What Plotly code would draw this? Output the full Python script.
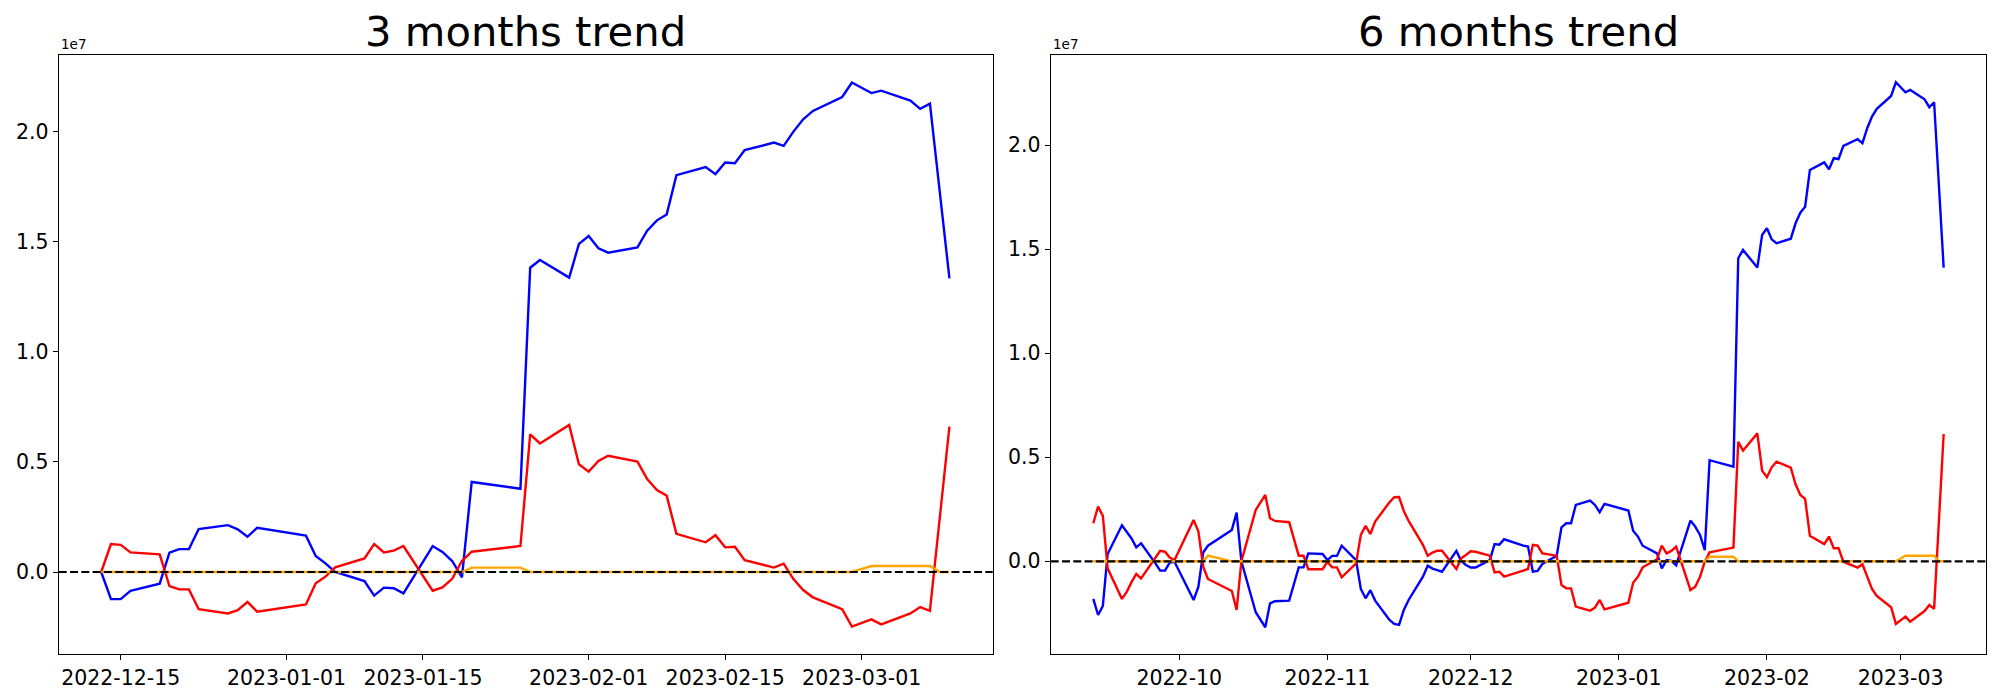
import plotly.graph_objects as go

# ---------------- data: 3 months panel (values in millions) ----------------
dates_3m = [
    "2022-12-13", "2022-12-14", "2022-12-15", "2022-12-16", "2022-12-19", "2022-12-20",
    "2022-12-21", "2022-12-22", "2022-12-23", "2022-12-26", "2022-12-27", "2022-12-28",
    "2022-12-29", "2023-01-03", "2023-01-04", "2023-01-05", "2023-01-06", "2023-01-09",
    "2023-01-10", "2023-01-11", "2023-01-12", "2023-01-13", "2023-01-16", "2023-01-17",
    "2023-01-18", "2023-01-19", "2023-01-20", "2023-01-25", "2023-01-26", "2023-01-27",
    "2023-01-30", "2023-01-31", "2023-02-01", "2023-02-02", "2023-02-03", "2023-02-06",
    "2023-02-07", "2023-02-08", "2023-02-09", "2023-02-10", "2023-02-13", "2023-02-14",
    "2023-02-15", "2023-02-16", "2023-02-17", "2023-02-20", "2023-02-21", "2023-02-22",
    "2023-02-23", "2023-02-24", "2023-02-27", "2023-02-28", "2023-03-02", "2023-03-03",
    "2023-03-06", "2023-03-07", "2023-03-08", "2023-03-09", "2023-03-10",
]
blue_3m = [
    0.0, -1.23, -1.23, -0.86, -0.53, 0.88, 1.04, 1.04, 1.95, 2.13, 1.94, 1.60,
    2.01, 1.65, 0.73, 0.39, 0.0, -0.41, -1.07, -0.71, -0.74, -0.97, 1.18, 0.91,
    0.50, -0.24, 4.09, 3.78, 13.82, 14.17, 13.37, 14.90, 15.26, 14.70, 14.50, 14.74,
    15.50, 15.97, 16.24, 18.02, 18.39, 18.07, 18.60, 18.56, 19.16, 19.50, 19.35, 20.00,
    20.56, 20.94, 21.57, 22.23, 21.75, 21.86, 21.41, 21.03, 21.27, 17.30, 13.34,
]
red_3m = [
    0.0, 1.27, 1.23, 0.89, 0.80, -0.64, -0.79, -0.79, -1.69, -1.88, -1.73, -1.36,
    -1.80, -1.47, -0.51, -0.21, 0.21, 0.62, 1.27, 0.89, 0.97, 1.18, -0.85, -0.70,
    -0.31, 0.50, 0.92, 1.18, 6.25, 5.84, 6.68, 4.89, 4.56, 5.04, 5.28, 5.01,
    4.22, 3.72, 3.47, 1.73, 1.35, 1.67, 1.12, 1.15, 0.54, 0.20, 0.38, -0.32,
    -0.82, -1.15, -1.69, -2.48, -2.15, -2.38, -1.88, -1.59, -1.76, 2.40, 6.60,
]
orange_3m = [
    0.0, 0.0, 0.0, 0.0, 0.0, 0.0, 0.0, 0.0, 0.0, 0.0, 0.0, 0.0,
    0.0, 0.0, 0.0, 0.0, 0.0, 0.0, 0.0, 0.0, 0.0, 0.0, 0.0, 0.0,
    0.0, 0.0, 0.20, 0.20, 0.0, 0.0, 0.0, 0.0, 0.0, 0.0, 0.0, 0.0,
    0.0, 0.0, 0.0, 0.0, 0.0, 0.0, 0.0, 0.0, 0.0, 0.0, 0.0, 0.0,
    0.0, 0.0, 0.0, 0.0, 0.27, 0.27, 0.27, 0.27, 0.27, 0.0, 0.0,
]

# ---------------- data: 6 months panel (values in millions) ----------------
dates_6m = [
    "2022-09-13", "2022-09-14", "2022-09-15", "2022-09-16", "2022-09-19", "2022-09-20",
    "2022-09-21", "2022-09-22", "2022-09-23", "2022-09-26", "2022-09-27", "2022-09-28",
    "2022-09-29", "2022-09-30", "2022-10-04", "2022-10-05", "2022-10-06", "2022-10-07",
    "2022-10-11", "2022-10-12", "2022-10-13", "2022-10-14", "2022-10-17", "2022-10-18",
    "2022-10-19", "2022-10-20", "2022-10-21", "2022-10-24", "2022-10-25", "2022-10-26",
    "2022-10-27", "2022-10-28", "2022-10-31", "2022-11-01", "2022-11-02", "2022-11-03",
    "2022-11-04", "2022-11-07", "2022-11-08", "2022-11-09", "2022-11-10", "2022-11-11",
    "2022-11-14", "2022-11-15", "2022-11-16", "2022-11-17", "2022-11-18", "2022-11-21",
    "2022-11-22", "2022-11-23", "2022-11-24", "2022-11-25", "2022-11-28", "2022-11-29",
    "2022-11-30", "2022-12-01", "2022-12-02", "2022-12-05", "2022-12-06", "2022-12-07",
    "2022-12-08", "2022-12-09", "2022-12-12",
] + dates_3m
blue_6m = [
    -1.81, -2.58, -2.15, 0.35, 1.73, 1.43, 1.10, 0.67, 0.87, -0.10, -0.45, -0.45,
    -0.06, -0.02, -1.86, -1.22, 0.42, 0.75, 1.35, 1.51, 2.34, 0.0, -2.45, -2.82,
    -3.17, -2.02, -1.92, -1.89, -1.09, -0.29, -0.29, 0.38, 0.35, 0.06, 0.26, 0.26,
    0.75, 0.06, -1.33, -1.78, -1.39, -1.89, -2.82, -3.01, -3.06, -2.34, -1.86, -0.74,
    -0.21, -0.35, -0.42, -0.50, 0.50, 0.02, -0.18, -0.30, -0.30, 0.06, 0.83, 0.80,
    1.06, 0.98, 0.75,
    0.71, -0.50, -0.46, -0.13, 0.27, 1.63, 1.83, 1.83, 2.71, 2.92, 2.71, 2.36,
    2.76, 2.44, 1.47, 1.19, 0.75, 0.38, -0.34, 0.06, 0.02, -0.19, 1.96, 1.67,
    1.27, 0.54, 4.86, 4.55, 14.57, 14.97, 14.12, 15.69, 16.01, 15.48, 15.29, 15.51,
    16.25, 16.76, 17.05, 18.81, 19.18, 18.85, 19.38, 19.34, 19.97, 20.29, 20.10, 20.82,
    21.38, 21.75, 22.37, 23.03, 22.55, 22.66, 22.21, 21.83, 22.07, 18.10, 14.12,
]
red_6m = [
    1.83, 2.63, 2.18, -0.34, -1.81, -1.47, -1.00, -0.61, -0.82, 0.20, 0.50, 0.46,
    0.18, 0.06, 1.99, 1.43, -0.26, -0.85, -1.31, -1.43, -2.34, 0.0, 2.47, 2.82,
    3.19, 2.07, 1.94, 1.88, 1.07, 0.27, 0.27, -0.38, -0.38, -0.02, -0.29, -0.29,
    -0.77, -0.10, 1.27, 1.71, 1.31, 1.91, 2.84, 3.08, 3.09, 2.42, 1.94, 0.79,
    0.27, 0.42, 0.51, 0.51, -0.37, 0.14, 0.30, 0.48, 0.46, 0.27, -0.53, -0.50,
    -0.74, -0.66, -0.43,
    -0.37, 0.79, 0.75, 0.38, 0.27, -1.14, -1.30, -1.30, -2.18, -2.37, -2.23, -1.86,
    -2.31, -1.99, -1.03, -0.74, -0.29, 0.10, 0.75, 0.38, 0.50, 0.71, -1.38, -1.22,
    -0.74, -0.02, 0.43, 0.66, 5.75, 5.32, 6.15, 4.36, 4.04, 4.52, 4.79, 4.50,
    3.70, 3.19, 3.00, 1.23, 0.83, 1.19, 0.63, 0.63, -0.02, -0.30, -0.14, -0.74,
    -1.33, -1.67, -2.21, -3.01, -2.66, -2.90, -2.39, -2.10, -2.29, 1.90, 6.12,
]
orange_6m = [
    0.0, 0.0, 0.0, 0.0, 0.0, 0.0, 0.0, 0.0, 0.0, 0.0, 0.0, 0.0,
    0.0, 0.0, 0.0, 0.0, 0.0, 0.27, 0.05, 0.0, 0.0, 0.0, 0.0, 0.0,
    0.0, 0.0, 0.0, 0.0, 0.0, 0.0, 0.0, 0.0, 0.0, 0.0, 0.0, 0.0,
    0.0, 0.0, 0.0, 0.0, 0.0, 0.0, 0.0, 0.0, 0.0, 0.0, 0.0, 0.0,
    0.0, 0.0, 0.0, 0.0, 0.0, 0.0, 0.0, 0.0, 0.0, 0.0, 0.0, 0.0,
    0.0, 0.0, 0.0,
    0.0, 0.0, 0.0, 0.0, 0.0, 0.0, 0.0, 0.0, 0.0, 0.0, 0.0, 0.0,
    0.0, 0.0, 0.0, 0.0, 0.0, 0.0, 0.0, 0.0, 0.0, 0.0, 0.0, 0.0,
    0.0, 0.0, 0.22, 0.22, 0.0, 0.0, 0.0, 0.0, 0.0, 0.0, 0.0, 0.0,
    0.0, 0.0, 0.0, 0.0, 0.0, 0.0, 0.0, 0.0, 0.0, 0.0, 0.0, 0.0,
    0.0, 0.0, 0.0, 0.0, 0.27, 0.27, 0.27, 0.27, 0.27, 0.0, 0.0,
]

titles = ["3 months trend", "6 months trend"]
ytick_vals = [0.0, 5e6, 1e7, 1.5e7, 2e7]
ytick_text = ["0.0", "0.5", "1.0", "1.5", "2.0"]
xtick_vals_3m = ["2022-12-15", "2023-01-01", "2023-01-15", "2023-02-01", "2023-02-15", "2023-03-01"]
xtick_text_3m = ["2022-12-15", "2023-01-01", "2023-01-15", "2023-02-01", "2023-02-15", "2023-03-01"]
xtick_vals_6m = ["2022-10-01", "2022-11-01", "2022-12-01", "2023-01-01", "2023-02-01", "2023-03-01"]
xtick_text_6m = ["2022-10", "2022-11", "2022-12", "2023-01", "2023-02", "2023-03"]

SCALE = 1e6
# the page body keeps the browser's default 8px margin, so the figure is
# made 16px smaller and all screen positions are shifted by that margin
BODY = 8
W, H = 2000 - 2 * BODY, 700 - 2 * BODY
FONT = "DejaVu Sans"

def px_x(sx):
    return (sx - BODY) / W

def px_y(sy):
    return (H - (sy - BODY)) / H

fig = go.Figure()

def add_panel(dates, blue, red, orange, xa, ya):
    for vals, col in ((blue, "blue"), (red, "red"), (orange, "orange")):
        fig.add_trace(go.Scatter(
            x=dates, y=[v * SCALE for v in vals], mode="lines",
            line=dict(color=col, width=2.4), xaxis=xa, yaxis=ya,
            showlegend=False, hoverinfo="skip"))

add_panel(dates_3m, blue_3m, red_3m, orange_3m, "x", "y")
add_panel(dates_6m, blue_6m, red_6m, orange_6m, "x2", "y2")

# axes geometry (screen pixels of the reference)
left_dom = [px_x(58.7), px_x(992.7)]
right_dom = [px_x(1050.7), px_x(1985.7)]
ydom = [px_y(654.3), px_y(55.3)]

axis_common = dict(showgrid=False, zeroline=False, showline=True, mirror=True,
                   linecolor="black", linewidth=1.1, ticks="outside", ticklen=5,
                   tickwidth=1.1, tickcolor="black",
                   tickfont=dict(family=FONT, size=20.5, color="black"))

fig.update_layout(
    width=W, height=H, margin=dict(l=0, r=0, t=0, b=0),
    paper_bgcolor="white", plot_bgcolor="white", showlegend=False,
    xaxis=dict(domain=left_dom, anchor="y", type="date",
               range=["2022-12-08 15:22", "2023-03-14 10:33"],
               tickvals=xtick_vals_3m, ticktext=xtick_text_3m, **axis_common),
    yaxis=dict(domain=ydom, anchor="x", range=[-3.737e6, 23.465e6],
               tickvals=ytick_vals, ticktext=ytick_text, **axis_common),
    xaxis2=dict(domain=right_dom, anchor="y2", type="date",
                range=["2022-09-04 02:00", "2023-03-18 19:12"],
                tickvals=xtick_vals_6m, ticktext=xtick_text_6m, **axis_common),
    yaxis2=dict(domain=ydom, anchor="x2", range=[-4.471e6, 24.327e6],
                tickvals=ytick_vals, ticktext=ytick_text, **axis_common),
)

# zero reference lines (dashed black)
for xr, yr in (("x domain", "y"), ("x2 domain", "y2")):
    fig.add_shape(type="line", xref=xr, yref=yr, x0=0, x1=1, y0=0, y1=0,
                  line=dict(color="black", width=2.2, dash="8px,3.3px"), layer="above")

# titles and offset labels
for dom, title in ((left_dom, titles[0]), (right_dom, titles[1])):
    fig.add_annotation(text=title, xref="paper", yref="paper",
                       x=(dom[0] + dom[1]) / 2, y=px_y(58),
                       xanchor="center", yanchor="bottom", showarrow=False,
                       font=dict(family=FONT, size=41.7, color="black"))
    fig.add_annotation(text="1e7", xref="paper", yref="paper",
                       x=dom[0], y=px_y(54), xanchor="left", yanchor="bottom",
                       showarrow=False, font=dict(family=FONT, size=13.5, color="black"))

fig.write_html("out.html")
